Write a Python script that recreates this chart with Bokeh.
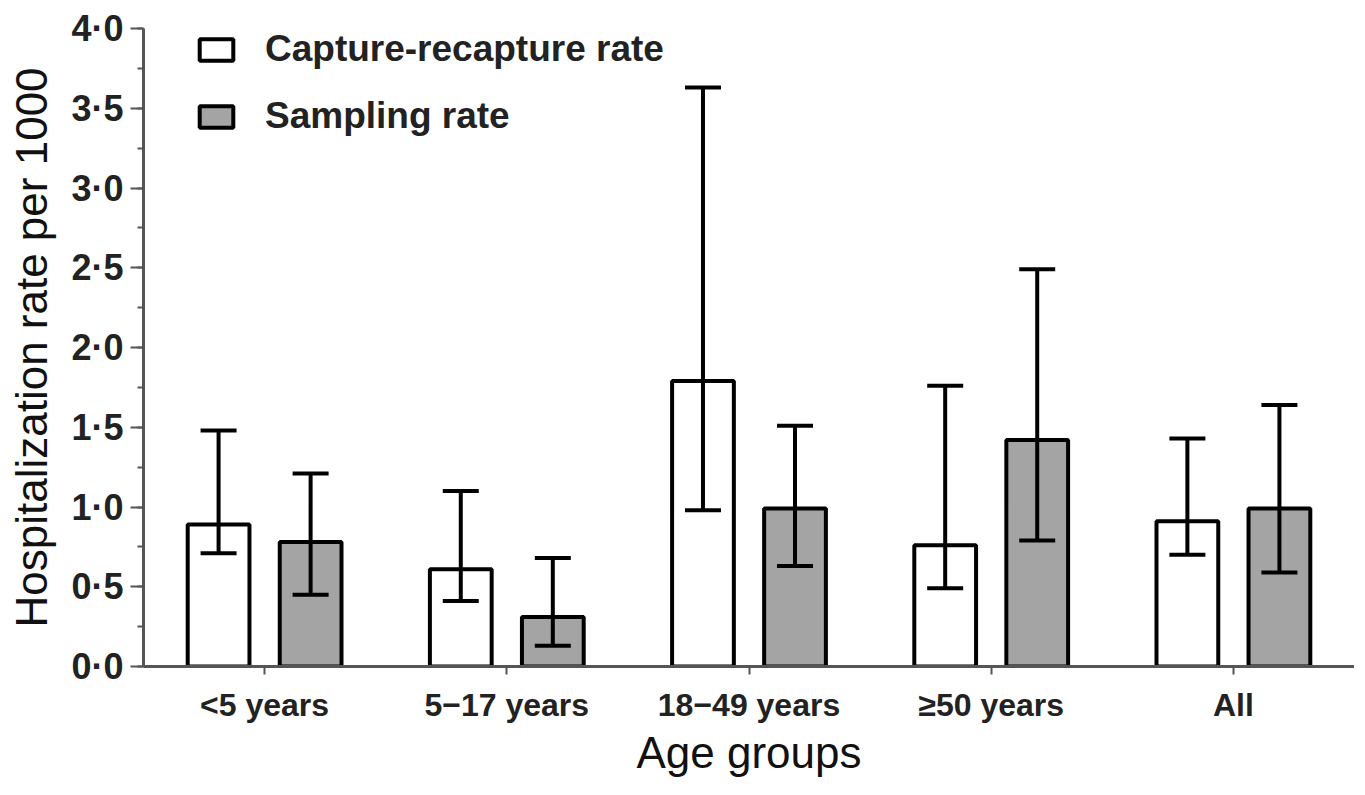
from bokeh.plotting import figure
from bokeh.models import (ColumnDataSource, FactorRange, Range1d, SingleIntervalTicker,
                          Whisker, Legend, LegendItem)
from bokeh.transform import dodge
from bokeh.embed import file_html
from bokeh.resources import INLINE

categories = ["<5 years", "5\u221217 years", "18\u221249 years", "\u226550 years", "All"]
capture_rate = [0.89, 0.61, 1.79, 0.76, 0.91]
capture_lower = [0.71, 0.41, 0.98, 0.49, 0.70]
capture_upper = [1.48, 1.10, 3.63, 1.76, 1.43]
sampling_rate = [0.78, 0.31, 0.99, 1.42, 0.99]
sampling_lower = [0.45, 0.13, 0.63, 0.79, 0.59]
sampling_upper = [1.21, 0.68, 1.51, 2.49, 1.64]
y_ticks = [0.0, 0.5, 1.0, 1.5, 2.0, 2.5, 3.0, 3.5, 4.0]
y_tick_labels = ["0\u00b70", "0\u00b75", "1\u00b70", "1\u00b75", "2\u00b70",
                 "2\u00b75", "3\u00b70", "3\u00b75", "4\u00b70"]

FONT = "Liberation Sans"

src = ColumnDataSource(dict(cat=categories,
                            cr=capture_rate, crl=capture_lower, cru=capture_upper,
                            sr=sampling_rate, srl=sampling_lower, sru=sampling_upper))

p = figure(width=1354, height=779, x_range=FactorRange(*categories),
           y_range=Range1d(0, 4.0), output_backend="svg", toolbar_location=None,
           min_border_left=143, min_border_right=0, min_border_top=28, min_border_bottom=111)
p.outline_line_color = None
p.xgrid.grid_line_color = None
p.ygrid.grid_line_color = None
p.x_range.range_padding = 0.0

off = 0.19
bw = 0.255
r1 = p.vbar(x=dodge("cat", -off, range=p.x_range), top="cr", bottom=0, width=bw, source=src,
            fill_color="white", line_color="black", line_width=4)
r2 = p.vbar(x=dodge("cat", off, range=p.x_range), top="sr", bottom=0, width=bw, source=src,
            fill_color="#a4a4a4", line_color="black", line_width=4)

for base, lo, up in ((-off, "crl", "cru"), (off, "srl", "sru")):
    w = Whisker(base=dodge("cat", base, range=p.x_range), lower=lo, upper=up, source=src,
                line_color="black", line_width=4, level="overlay")
    w.upper_head.size = 36
    w.lower_head.size = 36
    w.upper_head.line_width = 4
    w.lower_head.line_width = 4
    w.upper_head.line_color = "black"
    w.lower_head.line_color = "black"
    p.add_layout(w)

# axes
p.yaxis.ticker = SingleIntervalTicker(interval=0.5, num_minor_ticks=2)
p.yaxis.major_label_overrides = {t: l for t, l in zip(y_ticks, y_tick_labels)}
p.yaxis.major_label_text_font = FONT
p.yaxis.major_label_text_font_style = "bold"
p.yaxis.major_label_text_font_size = "36px"
p.yaxis.major_label_text_color = "#222222"
p.yaxis.axis_line_color = "#555555"
p.yaxis.axis_line_width = 3
p.yaxis.major_tick_line_color = "#555555"
p.yaxis.major_tick_line_width = 2
p.yaxis.major_tick_out = 13
p.yaxis.major_tick_in = 0
p.yaxis.minor_tick_line_color = "#555555"
p.yaxis.minor_tick_line_width = 2
p.yaxis.minor_tick_out = 6
p.yaxis.minor_tick_in = 0
p.yaxis.major_label_standoff = 7
p.yaxis.axis_label = "Hospitalization rate per 1000"
p.yaxis.axis_label_text_font = FONT
p.yaxis.axis_label_text_font_style = "normal"
p.yaxis.axis_label_text_font_size = "44px"
p.yaxis.axis_label_text_color = "#111111"
p.yaxis.axis_label_standoff = 12

p.xaxis.axis_line_color = "#555555"
p.xaxis.axis_line_width = 3
p.xaxis.major_tick_line_color = "#555555"
p.xaxis.major_tick_line_width = 2
p.xaxis.major_tick_out = 8
p.xaxis.major_tick_in = 0
p.xaxis.minor_tick_line_color = None
p.xaxis.major_label_text_font = FONT
p.xaxis.major_label_text_font_style = "bold"
p.xaxis.major_label_text_font_size = "32px"
p.xaxis.major_label_text_color = "#222222"
p.xaxis.major_label_standoff = 12
p.xaxis.axis_label = "Age groups"
p.xaxis.axis_label_text_font = FONT
p.xaxis.axis_label_text_font_style = "normal"
p.xaxis.axis_label_text_font_size = "44px"
p.xaxis.axis_label_text_color = "#111111"
p.xaxis.axis_label_standoff = 2

legend = Legend(items=[LegendItem(label="Capture-recapture rate", renderers=[r1]),
                       LegendItem(label="Sampling rate", renderers=[r2])],
                location=(52, 528), orientation="vertical")
legend.background_fill_alpha = 0
legend.border_line_color = None
legend.padding = 0
legend.margin = 0
legend.spacing = 23
legend.glyph_width = 42
legend.glyph_height = 27
legend.label_height = 44
legend.label_standoff = 28
legend.label_text_font = FONT
legend.label_text_font_style = "bold"
legend.label_text_font_size = "37px"
legend.label_text_color = "#222222"
p.add_layout(legend)

open("out.html", "w").write(file_html(p, INLINE))
